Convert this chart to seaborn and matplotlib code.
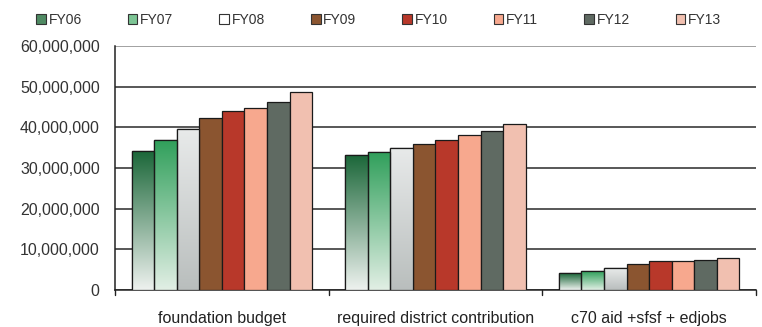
import numpy as np
import pandas as pd
import matplotlib
matplotlib.use("Agg")
import matplotlib.pyplot as plt
import seaborn as sns
from matplotlib.colors import LinearSegmentedColormap
from matplotlib.patches import Patch

categories = ["foundation budget", "required district contribution", "c70 aid +sfsf + edjobs"]
years = ["FY06", "FY07", "FY08", "FY09", "FY10", "FY11", "FY12", "FY13"]

foundation_budget = [34.2e6, 37.0e6, 39.5e6, 42.2e6, 44.0e6, 44.7e6, 46.3e6, 48.6e6]
required_contribution = [33.3e6, 34.0e6, 35.0e6, 36.0e6, 36.9e6, 38.1e6, 39.2e6, 40.8e6]
c70_aid = [4.1e6, 4.6e6, 5.3e6, 6.4e6, 7.2e6, 7.2e6, 7.3e6, 7.8e6]

yticks = [0, 10e6, 20e6, 30e6, 40e6, 50e6, 60e6]

# base colours for each year; the first three get a vertical gradient
colors = ["#1f6b3e", "#35a862", "#d9dcdc", "#8b5530", "#b8382a", "#f7a88e", "#5f6a62", "#f1c0b0"]
gradients = {
    "FY06": ("#1a6638", "#eef2ef"),
    "FY07": ("#2f9f5a", "#e2efe5"),
    "FY08": ("#e8eaea", "#b9bebd"),
}

rows = []
for cat, vals in zip(categories, [foundation_budget, required_contribution, c70_aid]):
    for yr, v in zip(years, vals):
        rows.append({"category": cat, "year": yr, "value": v})
df = pd.DataFrame(rows)

sns.set_style("white")
plt.rcParams["font.family"] = ["Liberation Sans", "DejaVu Sans"]

fig = plt.figure(figsize=(7.62, 3.27), dpi=100)
ax = fig.add_axes([115 / 762, 1 - 290 / 327, 641 / 762, 244 / 327])

sns.barplot(data=df, x="category", y="value", hue="year", order=categories,
            hue_order=years, palette=colors, width=0.845, ax=ax,
            edgecolor="#1a1a1a", linewidth=0.9, saturation=1, legend=False,
            zorder=3)

# vertical gradient fill for the first three years
n_cat = len(categories)
for i, yr in enumerate(years):
    if yr not in gradients:
        continue
    top, bottom = gradients[yr]
    cmap = LinearSegmentedColormap.from_list(yr, [bottom, top])
    for patch in ax.patches[i * n_cat:(i + 1) * n_cat]:
        x0, y0 = patch.get_x(), patch.get_y()
        w, h = patch.get_width(), patch.get_height()
        grad = np.linspace(0, 1, 256).reshape(-1, 1)
        im = ax.imshow(grad, extent=[x0, x0 + w, y0, y0 + h], origin="lower",
                       aspect="auto", cmap=cmap, zorder=3.5)
        im.set_clip_path(patch)
        edge = plt.Rectangle((x0, y0), w, h, fill=False, edgecolor="#1a1a1a",
                             linewidth=0.9, zorder=4)
        ax.add_patch(edge)

ax.set_xlim(-0.5, 2.5)
ax.set_ylim(0, 60e6)
ax.set_yticks(yticks)
ax.set_yticklabels([f"{int(v):,}" for v in yticks], fontsize=11.5, color="#333333")
ax.set_xticks(range(len(categories)))
ax.set_xticklabels(categories, fontsize=11.5, color="#222222")
ax.tick_params(axis="x", length=0, pad=15)
ax.tick_params(axis="y", length=4, width=1, direction="inout", color="#222222", pad=9)

# tick marks between category groups
for xb in [-0.5, 0.5, 1.5, 2.5]:
    ax.plot([xb, xb], [0, -1.2e6], color="#222222", lw=1, clip_on=False, zorder=5)

ax.set_axisbelow(True)
ax.yaxis.grid(True, color="#2a2a2a", linewidth=1.1)
ax.grid(axis="x", visible=False)
ax.get_ygridlines()[-1].set_color("#888888")
ax.set_xlabel("")
ax.set_ylabel("")
for side in ["top", "right"]:
    ax.spines[side].set_visible(False)
ax.spines["left"].set_color("#222222")
ax.spines["bottom"].set_color("#222222")
ax.spines["left"].set_linewidth(1.1)
ax.spines["bottom"].set_linewidth(1.1)

handles = [Patch(facecolor=c, edgecolor="#333333", linewidth=0.8) for c in colors]
handles[0] = Patch(facecolor="#4f8a63", edgecolor="#333333", linewidth=0.8)
handles[1] = Patch(facecolor="#7cc494", edgecolor="#333333", linewidth=0.8)
handles[2] = Patch(facecolor="#ffffff", edgecolor="#333333", linewidth=0.8)
fig.legend(handles, years, loc="upper center", bbox_to_anchor=(0.497, 1.0), ncol=8,
           frameon=False, fontsize=10, handlelength=0.7, handleheight=0.7,
           handletextpad=0.2, columnspacing=3.3, labelcolor="#333333")

fig.savefig("out.png", dpi=100)
